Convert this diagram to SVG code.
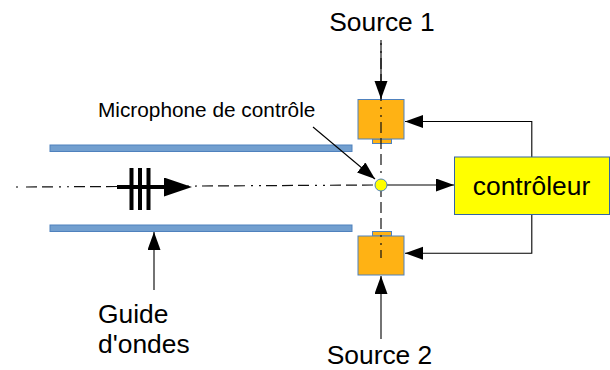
<svg xmlns="http://www.w3.org/2000/svg" width="610" height="370" viewBox="0 0 610 370">
<style>
text{font-family:"Liberation Sans",Arial,sans-serif;fill:#000}
.box{fill:#ffb214;stroke:#4f81bd;stroke-width:1}
.guide{fill:#729fcf;stroke:#4f81bd;stroke-width:1}
.line{fill:none;stroke:#000;stroke-width:1.1}
.axis{fill:none;stroke:#111;stroke-width:1.2;stroke-dasharray:11 5 11 5 11 6 2 6 2 5}
.head{fill:#000;stroke:none}
.thick{fill:none;stroke:#000;stroke-width:4}
.t26{font-size:26.4px}
.t21{font-size:20.8px}
</style>
<defs>
<marker id="arrow" markerUnits="userSpaceOnUse" markerWidth="19" markerHeight="14" refX="18" refY="6.500" orient="auto"><path class="head" d="M0,0L18,6.500L0,13Z"/></marker>
<marker id="arrow-big" markerUnits="userSpaceOnUse" markerWidth="29" markerHeight="20" refX="6" refY="9.500" orient="auto"><path class="head" d="M0,0L28,9.500L0,19Z"/></marker>
</defs>
<g id="guide-top"><rect class="guide" x="50" y="145" width="302" height="6.500"/></g>
<g id="guide-bottom"><rect class="guide" x="50" y="225" width="302" height="6.500"/></g>
<g id="source-top-speaker"><rect class="box" x="372.500" y="139" width="19" height="4.500"/><rect class="box" x="358" y="99.500" width="46" height="39.500"/></g>
<g id="source-bottom-speaker"><rect class="box" x="372.500" y="231.500" width="19" height="4.500"/><rect class="box" x="358" y="236" width="46" height="39"/></g>
<g id="connectors">
<path class="line" d="M16,187H18"/>
<path class="axis" stroke-dashoffset="16" d="M26,187L375,185"/>
<path class="axis" stroke-dashoffset="46" d="M381,40V258"/>
<path class="line" d="M381,40V99" marker-end="url(#arrow)"/>
<path class="line" d="M381,339V276" marker-end="url(#arrow)"/>
<path class="line" d="M531.800,157V121.500H405" marker-end="url(#arrow)"/>
<path class="line" d="M531.800,214V253.200H405" marker-end="url(#arrow)"/>
<path class="line" d="M387,185H454" marker-end="url(#arrow)"/>
<path class="line" d="M313,127L375,179" marker-end="url(#arrow)"/>
<path class="line" d="M154,290V232" marker-end="url(#arrow)"/>
<path class="thick" d="M117,187H170" marker-end="url(#arrow-big)"/>
<path class="thick" d="M131.500,168V210M140,168V210M148.500,168V210"/>
</g>
<g id="microphone"><circle cx="381" cy="185" r="6" fill="#ff0" stroke="#4f81bd" stroke-width="1"/></g>
<g id="controleur"><rect x="454.500" y="157" width="155" height="57.500" fill="#ff0" stroke="#3465a4" stroke-width="1"/><text class="t26" x="531.500" y="195" text-anchor="middle">contrôleur</text></g>
<g id="labels">
<text class="t26" x="382" y="30.500" text-anchor="middle">Source 1</text>
<text class="t26" x="379.500" y="364.200" text-anchor="middle">Source 2</text>
<text class="t21" x="98" y="116.500">Microphone de contrôle</text>
<text class="t26" x="98" y="322.500">Guide</text>
<text class="t26" x="98" y="352.500">d'ondes</text>
</g>
</svg>
